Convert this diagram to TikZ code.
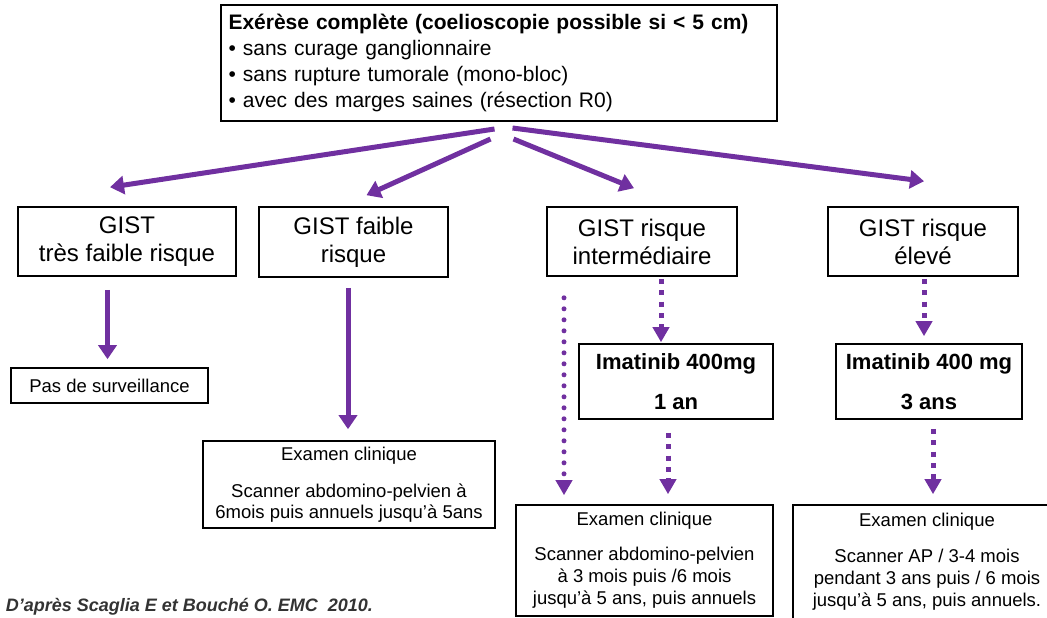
\documentclass[tikz,border=0pt]{standalone}
\usepackage{fontspec}
\setmainfont{Liberation Sans}
\usepackage{tikz}
\usetikzlibrary{arrows.meta, calc}
\definecolor{gistviolet}{RGB}{112,48,160}

\begin{document}
\begin{tikzpicture}[
		x = 0.5pt, y = -0.5pt, % one unit = one pixel of the scan, y going down
		every node/.style = {draw, line width = 0.8pt, inner sep = 0pt, align = center},
		box/.style = {rectangle, font = \fontsize{12}{14}\selectfont},
		suivi/.style = {rectangle, font = \fontsize{9.25}{10.5}\selectfont},
		imab/.style = {rectangle, font = \bfseries\fontsize{11}{13}\selectfont},
		fleche/.style = {draw = gistviolet, line width = 2.5pt, -{Triangle[width = 9pt, length = 7pt]}},
		carre/.style = {draw = gistviolet, line width = 2.5pt, dash pattern = on 2.5pt off 3.2pt, -{Triangle[width = 8pt, length = 7.5pt]}},
		rond/.style = {draw = gistviolet, line width = 2.5pt, line cap = round, dash pattern = on 0pt off 5.5pt, -{Triangle[width = 8pt, length = 7.5pt]}}
		]
		\useasboundingbox (0,0) rectangle (1047,617);
		\clip (0,0) rectangle (1047,617);
		\node[box, line width = 1pt, align = left, text width = 270pt, minimum height = 58pt, inner xsep = 4pt, font = \fontsize{10.5}{13}\selectfont] (top) at (498.5,63)
		{{\bfseries Exérèse complète (coelioscopie possible si < 5 cm)}\\
			• sans curage ganglionnaire\\
			• sans rupture tumorale (mono-bloc)\\
			• avec des marges saines (résection R0)};
		% risk groups
		\node[box, minimum width = 109pt, minimum height = 34.5pt] (b1) at (127,241.5) {GIST\\très faible risque};
		\node[box, minimum width = 94.5pt, minimum height = 35pt] (b2) at (353.5,242) {GIST faible\\risque};
		\node[box, minimum width = 95pt, minimum height = 34.5pt] (b3) at (642,241.5) {GIST risque\\intermédiaire};
		\node[box, minimum width = 95pt, minimum height = 34.5pt] (b4) at (923,241.5) {GIST risque\\élevé};
		% treatment and follow-up
		\node[suivi, minimum width = 98.5pt, minimum height = 17.5pt] (pas) at (109.5,385.5) {Pas de surveillance};
		\node[suivi, minimum width = 146pt, minimum height = 43.5pt] (ex2) at (349,484.5)
		{Examen clinique\\[8pt]Scanner abdomino-pelvien à\\6mois puis annuels jusqu'à 5ans};
		\node[imab, minimum width = 97pt, minimum height = 37.5pt] (ima1) at (676,381.5) {Imatinib 400mg\\[7pt]1 an};
		\node[imab, minimum width = 93pt, minimum height = 37.5pt] (ima2) at (929,381.5) {Imatinib 400 mg\\[7pt]3 ans};
		\node[suivi, font = \fontsize{9.25}{11}\selectfont, minimum width = 128.5pt, minimum height = 55.5pt] (ex3) at (644.5,560.5)
		{Examen clinique\\[6.5pt]Scanner abdomino-pelvien\\à 3 mois puis /6 mois\\jusqu'à 5 ans, puis annuels};
		\node[suivi, font = \fontsize{9.25}{11}\selectfont, minimum width = 134pt, minimum height = 57pt] (ex4) at (927,562)
		{Examen clinique\\[7pt]Scanner AP / 3-4 mois\\pendant 3 ans puis / 6 mois\\jusqu'à 5 ans, puis annuels.};
		% Source
		\begin{scope}[nodes = {draw = none}]
			\node[anchor = west, font = \bfseries\itshape\fontsize{9}{11}\selectfont, text = black!80] (source) at (5,607) {D'après Scaglia E et Bouché O. EMC\ \ 2010.};
		\end{scope}
		% Arrows
		\draw[fleche] ($(top.south)+(-4,7)$) -- ($(b1.north)+(-17,-19)$);
		\draw[fleche] ($(top.south)+(-8,17)$) -- ($(b2.north)+(13,-11)$);
		\draw[fleche] ($(top.south)+(15,17)$) -- ($(b3.north)+(-8,-18)$);
		\draw[fleche] ($(top.south)+(14,6)$) -- ($(b4.north)+(1,-25)$);
		\draw[fleche] ($(b1.south -| pas.north)+(-2,13)$) -- ($(pas.north)+(-2,-8)$);
		\draw[fleche] ($(b2.south -| ex2.north)+(-1,10)$) -- ($(ex2.north)+(-1,-11)$);
		\draw[carre] ($(b3.south)+(19,2)$) -- ($(b3.south |- ima1.north)+(19,-1)$);
		\draw[rond] ($(b3.south)+(-78,21)$) -- ($(ex3.north)+(-80.5,-9)$);
		\draw[carre] ($(ima1.south)+(-8,13)$) -- ($(ima1.south |- ex3.north)+(-8,-10)$);
		\draw[carre] ($(b4.south)+(1,2)$) -- ($(b4.south |- ima2.north)+(1,-7)$);
		\draw[carre] ($(ima2.south)+(4,9)$) -- ($(ima2.south |- ex4.north)+(4,-10)$);
	\end{tikzpicture}
\end{document}
